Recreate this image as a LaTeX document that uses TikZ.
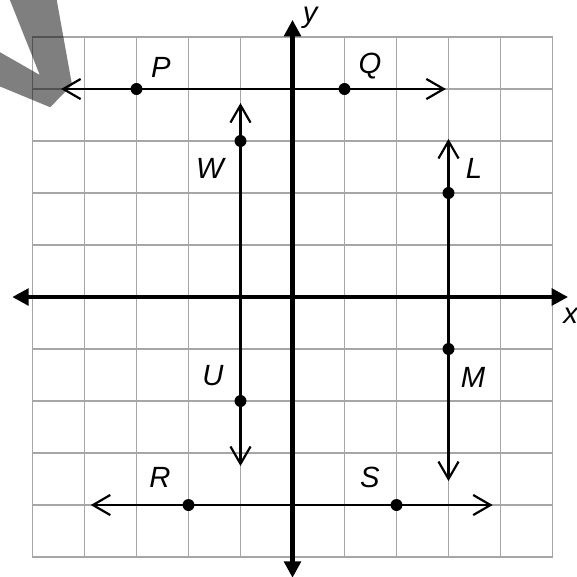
\documentclass[tikz,border=0pt]{standalone}
\usepackage{fontspec}
\setmainfont{Liberation Sans}
\usetikzlibrary{arrows.meta,positioning}

\begin{document}
\begin{tikzpicture}[x=1cm,y=1cm,
    dot/.style={circle,fill=black,inner sep=0pt,minimum size=2.3mm},
    lbl/.style={font=\fontsize{16}{16}\selectfont\itshape,inner sep=0pt},
    ray/.style={line width=1.2pt,
        {Straight Barb[length=9.5pt,width=11pt]}-{Straight Barb[length=9.5pt,width=11pt]}},
    axis/.style={line width=2.6pt,
        {Triangle[length=9pt,width=9pt]}-{Triangle[length=9pt,width=9pt]}}]
\useasboundingbox (-5.625,-5.365) rectangle (5.471,5.712);
% grid
\draw[gray!70,line width=0.9pt] (-5,-5) grid (5,5);
% axes
\coordinate (xl) at (-5.39,0);
\coordinate (xr) at (5.30,0);
\coordinate (yb) at (0,-5.40);
\coordinate (yt) at (0,5.33);
\draw[axis] (xl) -- (xr);
\draw[axis] (yb) -- (yt);
\node[lbl,anchor=base] (xlbl) at (5.35,-0.5) {x};
\node[lbl,anchor=base] (ylbl) at (0.34,5.27) {y};
% line ends
\coordinate (pq1) at (-4.45,4);
\coordinate (pq2) at (2.95,4);
\coordinate (wu1) at (-1,3.73);
\coordinate (wu2) at (-1,-3.25);
\coordinate (lm1) at (3,3.04);
\coordinate (lm2) at (3,-3.54);
\coordinate (rs1) at (-3.88,-4);
\coordinate (rs2) at (3.85,-4);
\draw[ray] (pq1) -- (pq2);
\draw[ray] (wu1) -- (wu2);
\draw[ray] (lm1) -- (lm2);
\draw[ray] (rs1) -- (rs2);
% points
\node[dot] (P) at (-3,4) {};
\node[dot] (Q) at (1,4) {};
\node[dot] (W) at (-1,3) {};
\node[dot] (U) at (-1,-2) {};
\node[dot] (L) at (3,2) {};
\node[dot] (M) at (3,-1) {};
\node[dot] (R) at (-2,-4) {};
\node[dot] (S) at (2,-4) {};
% labels
\node[lbl] (Plbl) at (-2.53,4.42) {P};
\node[lbl] (Qlbl) at (1.49,4.45) {Q};
\node[lbl] (Wlbl) at (-1.59,2.48) {W};
\node[lbl] (Ulbl) at (-1.53,-1.52) {U};
\node[lbl] (Llbl) at (3.49,2.48) {L};
\node[lbl] (Mlbl) at (3.47,-1.54) {M};
\node[lbl] (Rlbl) at (-2.55,-3.46) {R};
\node[lbl] (Slbl) at (1.49,-3.46) {S};
% grey mark in the corner
\fill[black,fill opacity=0.5] (-5.47,5.8) -- (-4.55,5.8) -- (-4.24,4.08) -- (-4.66,3.65)
    -- (-5.7,4.08) -- (-5.7,4.75) -- (-4.86,4.27) -- cycle;
\end{tikzpicture}
\end{document}
